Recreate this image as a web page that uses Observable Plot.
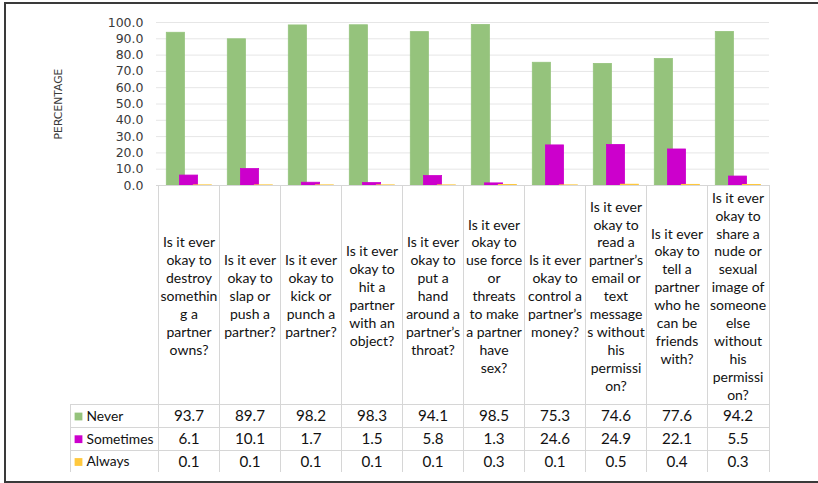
<!DOCTYPE html>
<html>
<head>
<meta charset="utf-8">
<script src="https://cdn.jsdelivr.net/npm/d3@7"></script>
<script src="https://cdn.jsdelivr.net/npm/@observablehq/plot@0.6"></script>
<style>
  html, body { margin: 0; padding: 0; background: #fff; }
  #wrap { position: relative; width: 818px; height: 483px; overflow: hidden; }
  #frame { position: absolute; left: 4px; top: 2px; width: 900px; height: 477px;
           border-left: 2px solid #3a3a3a; border-top: 2px solid #3a3a3a; border-bottom: 2px solid #3a3a3a;
           pointer-events: none; }
  #chart { position: absolute; left: 0; top: 0; }
</style>
</head>
<body>
<div id="wrap"><div id="chart"></div><div id="frame"></div></div>
<script>
// ---- data ----
const questions = [
  "Is it ever\nokay to\ndestroy\nsomethin\ng a\npartner\nowns?",
  "Is it ever\nokay to\nslap or\npush a\npartner?",
  "Is it ever\nokay to\nkick or\npunch a\npartner?",
  "Is it ever\nokay to\nhit a\npartner\nwith an\nobject?",
  "Is it ever\nokay to\nput a\nhand\naround a\npartner’s\nthroat?",
  "Is it ever\nokay to\nuse force\nor\nthreats\nto make\na partner\nhave\nsex?",
  "Is it ever\nokay to\ncontrol a\npartner’s\nmoney?",
  "Is it ever\nokay to\nread a\npartner’s\nemail or\ntext\nmessage\ns without\nhis\npermissi\non?",
  "Is it ever\nokay to\ntell a\npartner\nwho he\ncan be\nfriends\nwith?",
  "Is it ever\nokay to\nshare a\nnude or\nsexual\nimage of\nsomeone\nelse\nwithout\nhis\npermissi\non?"
];
const never     = [93.7, 89.7, 98.2, 98.3, 94.1, 98.5, 75.3, 74.6, 77.6, 94.2];
const sometimes = [6.1, 10.1, 1.7, 1.5, 5.8, 1.3, 24.6, 24.9, 22.1, 5.5];
const always    = [0.1, 0.1, 0.1, 0.1, 0.1, 0.3, 0.1, 0.5, 0.4, 0.3];
const seriesNames = ["Never", "Sometimes", "Always"];
const seriesColors = ["#95c37c", "#cc00cc", "#ffc83d"];
const yTicks = [0, 10, 20, 30, 40, 50, 60, 70, 80, 90, 100];

// ---- layout ----
const series = [never, sometimes, always];
const barInsets = [[8.3, 34.6], [21.5, 21.4], [35.3, 7.6]];
const headerCenter = 110;           // header text centre below the axis
const rowCenters = [231, 253.7, 276.5];
const rowTops = [219, 242, 265];
const tableBottom = 287;
const legendLeft = -86;             // relative to plot left edge
const tableFont = "Lato, 'Open Sans', sans-serif";

function tableGrid(index, scales, values, dims) {
  const x = scales.x;
  const x0 = dims.marginLeft, x1 = dims.width - dims.marginRight;
  const top = dims.height - dims.marginBottom;
  const bottom = top + tableBottom;
  const g = d3.create("svg:g")
    .attr("stroke", "#d6d6d6").attr("stroke-width", 1)
    .attr("shape-rendering", "crispEdges").attr("fill", "none");
  const xs = questions.map(q => x(q)).concat([x1]);
  for (const xv of xs) {
    g.append("line").attr("x1", xv).attr("x2", xv).attr("y1", top).attr("y2", bottom);
  }
  g.append("line").attr("x1", x0).attr("x2", x1).attr("y1", top).attr("y2", top);
  for (const r of rowTops) {
    g.append("line").attr("x1", x0 + legendLeft).attr("x2", x1).attr("y1", top + r).attr("y2", top + r);
  }
  g.append("line").attr("x1", x0 + legendLeft).attr("x2", x0 + legendLeft)
    .attr("y1", top + rowTops[0]).attr("y2", bottom);
  return g.node();
}

const marks = [
  Plot.gridY(yTicks, {stroke: "#e6e6e6", strokeOpacity: 1}),
  Plot.axisY(yTicks, {tickSize: 0, tickPadding: 13, tickFormat: d => d.toFixed(1),
    fontFamily: "'DejaVu Sans', Verdana, sans-serif", fontSize: 12.5, fill: "#3a3a3a", label: null}),
  Plot.text(["PERCENTAGE"], {text: d => d, frameAnchor: "left", dx: -98, rotate: -90,
    textAnchor: "middle", lineAnchor: "middle",
    fontFamily: "'DejaVu Sans', Verdana, sans-serif", fontSize: 10.8, fill: "#3a3a3a"})
];

series.forEach((vals, i) => {
  marks.push(Plot.barY(vals, {
    x: (d, j) => questions[j], y: d => d, fill: () => seriesNames[i],
    stroke: () => seriesNames[i], strokeWidth: 0.8,
    insetLeft: barInsets[i][0], insetRight: barInsets[i][1]
  }));
});

marks.push(tableGrid);

marks.push(Plot.text(questions, {
  x: d => d, text: d => d, frameAnchor: "bottom", dy: headerCenter,
  lineAnchor: "middle", lineHeight: 1.28, fontFamily: tableFont, fontSize: 14, fill: "#111"
}));

series.forEach((vals, i) => {
  marks.push(Plot.text(vals, {
    x: (d, j) => questions[j], text: d => d.toFixed(1), frameAnchor: "bottom", dy: rowCenters[i],
    lineAnchor: "middle", fontFamily: tableFont, fontSize: 15.2, fill: "#111"
  }));
  marks.push(Plot.dot([seriesNames[i]], {
    frameAnchor: "bottom-left", dx: -78, dy: rowCenters[i], symbol: "square", r: 4.4,
    fill: d => d, stroke: null
  }));
  marks.push(Plot.text([seriesNames[i]], {
    text: d => d, frameAnchor: "bottom-left", dx: -70, dy: rowCenters[i], textAnchor: "start",
    lineAnchor: "middle", fontFamily: tableFont, fontSize: 13.8, fill: "#111"
  }));
});

const chart = Plot.plot({
  width: 818, height: 483,
  marginLeft: 156, marginRight: 49, marginTop: 22, marginBottom: 298,
  style: {background: "transparent", overflow: "visible"},
  x: {type: "band", domain: questions, padding: 0, axis: null},
  y: {domain: [0, 100], axis: null},
  color: {domain: seriesNames, range: seriesColors},
  marks
});
document.getElementById("chart").appendChild(chart);
</script>
</body>
</html>
